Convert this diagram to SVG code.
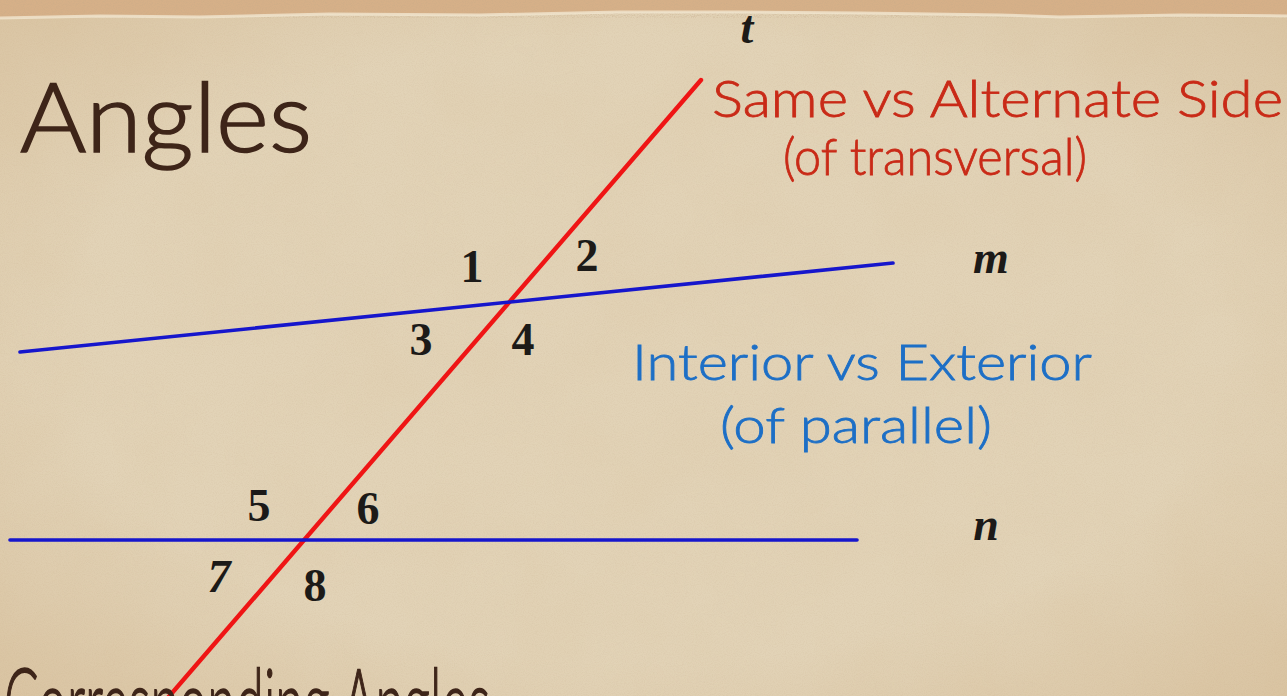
<svg xmlns="http://www.w3.org/2000/svg" width="1287" height="696" viewBox="0 0 1287 696">
<defs>
<style>
.hand{font-family:Lato,"Open Sans","Noto Sans",sans-serif;font-weight:300;}
.title{fill:#3e2519;stroke:#3e2519;stroke-width:1.6;font-size:96px;}
.red{fill:#c92a17;stroke:#c92a17;stroke-width:0.8;font-size:52px;}
.blue{fill:#1d6fc6;stroke:#1d6fc6;stroke-width:0.8;font-size:50px;}
.num{font-family:"Liberation Serif","Times New Roman",serif;font-weight:bold;font-size:46px;fill:#1c1a18;text-anchor:middle;}
.lbl{font-family:"Liberation Serif","Times New Roman",serif;font-weight:bold;font-style:italic;font-size:46px;fill:#1c1a18;text-anchor:middle;}
.tline{stroke:#ef1515;stroke-width:4.4;stroke-linecap:round;fill:none;}
.pline{stroke:#1616cc;stroke-width:3.6;stroke-linecap:round;fill:none;}
</style>
<filter id="grain" x="0" y="0" width="100%" height="100%">
<feTurbulence type="fractalNoise" baseFrequency="0.9" numOctaves="2" seed="3" result="n"/>
<feColorMatrix in="n" type="matrix" values="0 0 0 0 0.55  0 0 0 0 0.40  0 0 0 0 0.25  0 0 0 0.9 -0.35"/>
</filter>
<filter id="blot" x="0" y="0" width="100%" height="100%">
<feTurbulence type="fractalNoise" baseFrequency="0.012" numOctaves="3" seed="7" result="n"/>
<feColorMatrix in="n" type="matrix" values="0 0 0 0 0.70  0 0 0 0 0.55  0 0 0 0 0.35  0 0 0 0.8 -0.3"/>
</filter>
<radialGradient id="vig" cx="50%" cy="50%" r="75%">
<stop offset="0.6" stop-color="#c9a77a" stop-opacity="0"/>
<stop offset="1" stop-color="#c9a77a" stop-opacity="0.4"/>
</radialGradient>
</defs>

<g id="background">
<rect width="1287" height="696" fill="#e2d3b7"/>
<rect width="1287" height="696" filter="url(#blot)" opacity="0.35"/>
<rect width="1287" height="696" filter="url(#grain)" opacity="0.35"/>
<rect width="1287" height="696" fill="url(#vig)"/>
<path d="M0 0 H1287 V16 L1180 15 L1060 17 L1000 15 L860 13 L740 12 L620 12 L480 15 L330 14 L200 17 L100 16 L0 18 Z" fill="#d6b088"/>
<path d="M0 0 H1287 V16 L1180 15 L1060 17 L1000 15 L860 13 L740 12 L620 12 L480 15 L330 14 L200 17 L100 16 L0 18 Z" filter="url(#grain)" opacity="0.8"/>
<path d="M0 18 L100 16 L200 17 L330 14 L480 15 L620 12 L740 12 L860 13 L1000 15 L1060 17 L1180 15 L1287 16" stroke="#f1e6d0" stroke-width="3" fill="none" opacity="0.8"/>
</g>

<g id="title">
<text class="hand title" x="20" y="152" textLength="292" lengthAdjust="spacingAndGlyphs">Angles</text>
</g>

<g id="lines">
<line id="transversal-t" class="tline" x1="701" y1="80" x2="166" y2="700"/>
<line id="line-m" class="pline" x1="20" y1="352" x2="893" y2="263"/>
<line id="line-n" class="pline" x1="10" y1="540" x2="857" y2="540"/>
</g>

<g id="line-labels">
<text class="lbl" x="747" y="43">t</text>
<text class="lbl" x="991" y="273">m</text>
<text class="lbl" x="986" y="540">n</text>
</g>

<g id="angle-numbers">
<text class="num" x="472" y="282">1</text>
<text class="num" x="587" y="271">2</text>
<text class="num" x="421" y="355">3</text>
<text class="num" x="523" y="355">4</text>
<text class="num" x="259" y="521">5</text>
<text class="num" x="368" y="524">6</text>
<text class="num" x="219" y="592" font-style="italic">7</text>
<text class="num" x="315" y="601">8</text>
</g>

<g id="same-vs-alternate">
<text class="hand red" x="712" y="117" textLength="571" lengthAdjust="spacingAndGlyphs">Same vs Alternate Side</text>
<text class="hand red" x="783" y="175" textLength="304" lengthAdjust="spacingAndGlyphs">(of transversal)</text>
</g>

<g id="interior-vs-exterior">
<text class="hand blue" x="632" y="380" textLength="460" lengthAdjust="spacingAndGlyphs">Interior vs Exterior</text>
<text class="hand blue" x="720" y="443" textLength="272" lengthAdjust="spacingAndGlyphs">(of parallel)</text>
</g>

<g id="next-title">
<text class="hand title" x="4" y="738" font-size="76" textLength="486" lengthAdjust="spacingAndGlyphs">Corresponding Angles</text>
</g>
</svg>
